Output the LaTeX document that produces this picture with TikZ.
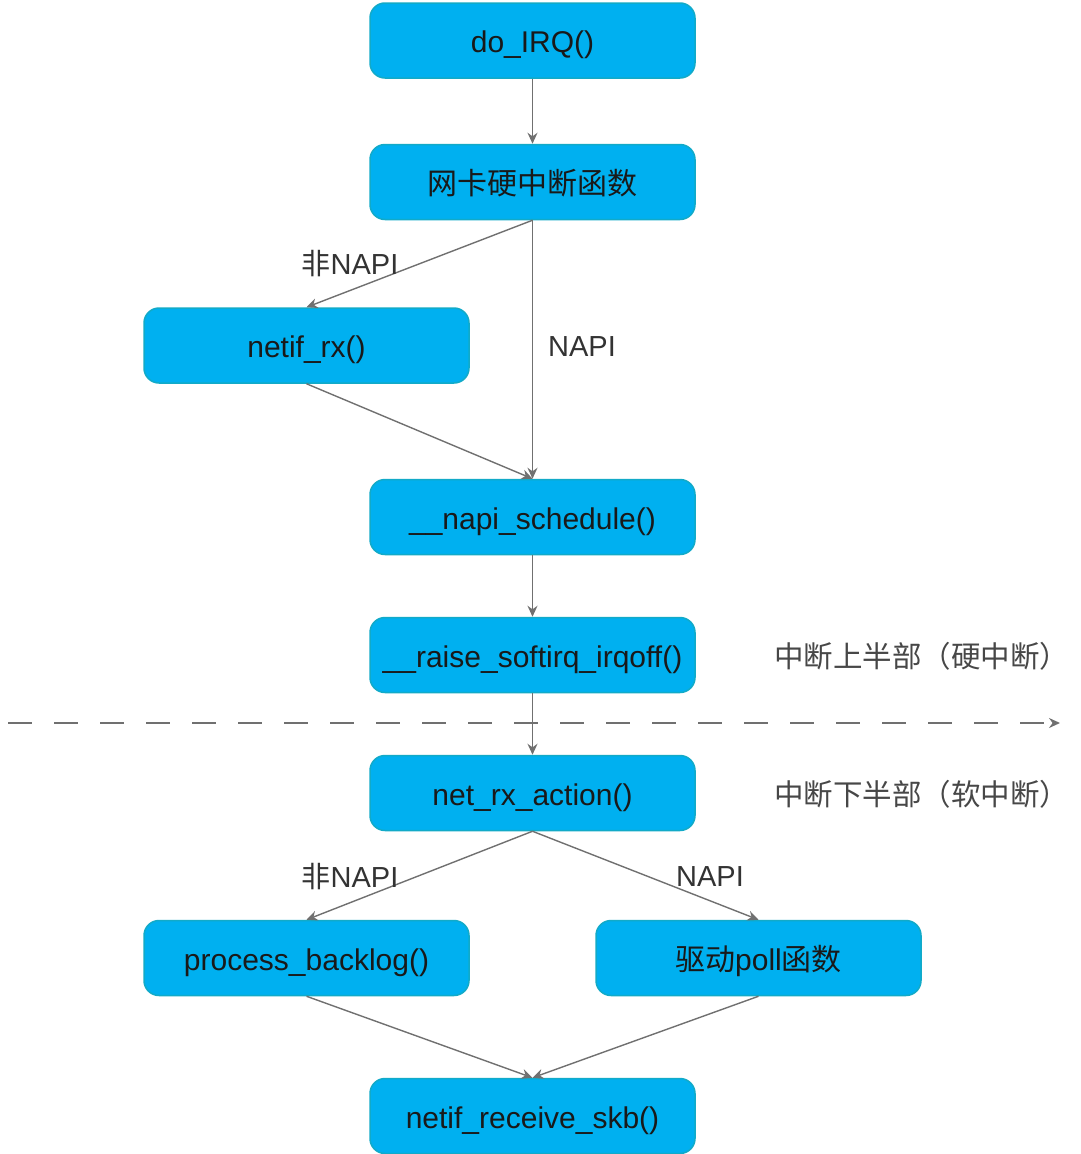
\documentclass[tikz,border=0pt]{standalone}
\usepackage{fontspec}
\setmainfont{Liberation Sans}
\newfontfamily\cjk{Noto Sans CJK SC}
\usetikzlibrary{arrows.meta}
\definecolor{boxfill}{RGB}{0,176,240}
\definecolor{boxline}{RGB}{18,170,200}
\definecolor{conn}{RGB}{112,112,112}
\definecolor{lbl}{RGB}{51,51,51}
\begin{document}
\begin{tikzpicture}[x=1pt,y=-1pt,
  fbox/.style={draw=boxline,line width=1.5pt,fill=boxfill,rounded corners=15pt,
    minimum width=325pt,minimum height=75pt,inner sep=0pt,text=black!90,
    text height=30pt,text depth=6pt,
    font=\fontsize{30}{36}\selectfont},
  conn/.style={draw=conn,line width=1.4pt,-{Stealth[length=11pt,width=10pt]}},
  lab/.style={text=lbl,font=\fontsize{29}{34}\selectfont,inner sep=0pt},
  side/.style={text=lbl!90,font=\cjk\fontsize{29.5}{34}\selectfont,inner sep=0pt}]
\useasboundingbox (0,0) rectangle (1080,1154);
\node[fbox] (irq) at (532.5,40.5) {do\_IRQ()};
\node[fbox] (hw) at (532.5,182) {\cjk 网卡硬中断函数};
\node[fbox] (rx) at (306.5,345.5) {netif\_rx()};
\node[fbox] (ns) at (532.5,517) {\_\_napi\_schedule()};
\node[fbox] (rs) at (532.5,655) {\_\_raise\_softirq\_irqoff()};
\node[fbox] (na) at (532.5,793) {net\_rx\_action()};
\node[fbox] (pb) at (306.5,958) {process\_backlog()};
\node[fbox] (dp) at (758.5,958) {{\cjk 驱动}poll{\cjk 函数}};
\node[fbox] (rsk) at (532.5,1116) {netif\_receive\_skb()};
\draw[conn] (irq.south) -- (hw.north);
\draw[conn] (hw.south) -- (rx.north);
\draw[conn] (hw.south) -- (ns.north);
\draw[conn] (rx.south) -- (ns.north);
\draw[conn] (ns.south) -- (rs.north);
\draw[conn] (rs.south) -- (na.north);
\draw[conn] (na.south) -- (pb.north);
\draw[conn] (na.south) -- (dp.north);
\draw[conn] (pb.south) -- (rsk.north);
\draw[conn] (dp.south) -- (rsk.north);
\coordinate (dl) at (8,723);
\coordinate (dr) at (1060,723);
\draw[draw=conn,line width=1.6pt,dash pattern=on 24pt off 22pt,-{Stealth[length=11pt,width=10pt]}] (dl) -- (dr);
\node[lab] (l1) at (350,264) {{\cjk 非}NAPI};
\node[lab] (l2) at (582,347) {NAPI};
\node[lab] (l3) at (350,877) {{\cjk 非}NAPI};
\node[lab] (l4) at (710,877) {NAPI};
\node[side,anchor=west] (s1) at (774,656) {中断上半部（硬中断）};
\node[side,anchor=west] (s2) at (774,794) {中断下半部（软中断）};
\end{tikzpicture}
\end{document}
